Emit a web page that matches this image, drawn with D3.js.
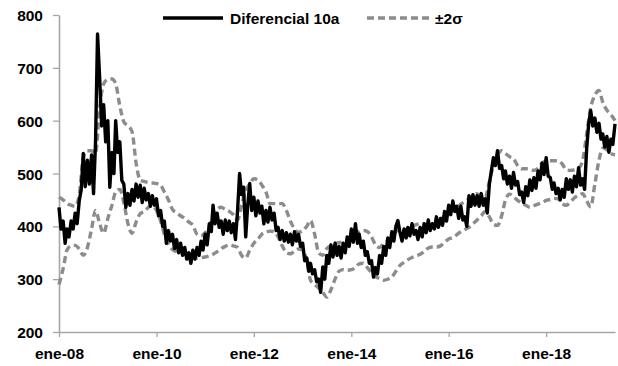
<!DOCTYPE html>
<html>
<head>
<meta charset="utf-8">
<script src="https://cdn.jsdelivr.net/npm/d3@7"></script>
<style>
  body { margin: 0; background: #fff; }
  svg text { font-family: "Liberation Sans", Arial, sans-serif; font-weight: bold; }
</style>
</head>
<body>
<svg id="chart" width="618" height="366"></svg>
<script>
// spread series, two readings per month from ene-08
const diferencial = [
  // 2008
  436, 395, 410, 368, 395, 380, 410, 395, 425, 405, 449, 470, 538, 475, 525, 480, 535, 462, 560, 764, 680, 590, 630, 560,
  // 2009
  600, 474, 540, 500, 600, 540, 560, 487, 480, 436, 462, 440, 470, 448, 480, 455, 478, 445, 472, 450, 462, 438, 458, 440,
  // 2010
  452, 420, 430, 400, 410, 368, 392, 372, 385, 358, 375, 350, 368, 345, 360, 338, 350, 330, 355, 338, 360, 345, 372, 355,
  // 2011
  385, 365, 405, 390, 440, 405, 425, 398, 410, 385, 412, 392, 410, 388, 405, 375, 430, 500, 460, 474, 380, 440, 481, 430,
  // 2012
  455, 420, 448, 425, 438, 405, 430, 408, 436, 412, 425, 392, 398, 375, 392, 372, 388, 370, 385, 365, 390, 372, 385, 362,
  // 2013
  368, 335, 340, 315, 330, 310, 318, 295, 300, 275, 323, 300, 345, 330, 365, 342, 368, 345, 362, 340, 368, 350, 380, 362,
  // 2014
  395, 370, 405, 368, 385, 360, 372, 345, 352, 330, 335, 304, 322, 310, 345, 330, 362, 345, 378, 360, 390, 372, 400, 411,
  // 2015
  388, 372, 395, 378, 398, 382, 405, 385, 392, 375, 398, 380, 405, 388, 412, 392, 405, 395, 418, 398, 415, 402, 428, 410,
  // 2016
  440, 422, 448, 428, 438, 415, 438, 412, 418, 400, 458, 438, 460, 440, 458, 438, 462, 440, 452, 425, 480, 505, 530, 515,
  // 2017
  543, 510, 515, 490, 505, 480, 495, 472, 502, 478, 485, 460, 465, 445, 475, 458, 488, 468, 492, 472, 505, 488, 520, 498,
  // 2018
  530, 495, 492, 470, 482, 462, 472, 450, 470, 455, 490, 470, 488, 465, 495, 475, 511, 478, 490, 470, 549, 595, 619, 590,
  // 2019
  605, 578, 595, 565, 575, 550, 570, 540, 565, 555, 594
];

// +2 sigma band, monthly from ene-08
const bandaSup = [
  455, 450, 443, 440, 438, 460, 530, 543, 543, 538, 625, 670,
  678, 679, 670, 628, 598, 590, 580, 520, 487, 485, 483, 482,
  481, 478, 465, 450, 432, 425, 420, 415, 408, 402, 385, 382,
  388, 400, 420, 432, 436, 432, 428, 422, 412, 440, 468, 480,
  490, 488, 478, 465, 443, 443, 443, 443, 430, 410, 395, 389,
  392, 400, 411, 385, 350, 345, 358, 363, 368, 369, 370, 372,
  375, 385, 390, 392, 390, 380, 365, 360, 368, 372, 378, 390,
  395, 393, 394, 400, 403, 405, 404, 402, 398, 402, 412, 420,
  426, 430, 435, 442, 447, 452, 458, 462, 455, 455, 485, 515,
  535, 543, 538, 532, 528, 515, 509, 509, 508, 506, 510, 520,
  524, 524, 524, 524, 518, 507, 506, 507, 510, 525, 575, 625,
  648, 657, 635, 620, 612, 600
];

// -2 sigma band, monthly from ene-08
const bandaInf = [
  290, 320, 355, 363, 364, 357, 345, 360, 395, 430, 405, 387,
  415, 440, 465, 470, 445, 405, 387, 408, 424, 428, 436, 440,
  430, 410, 385, 366, 356, 352, 350, 348, 345, 342, 340, 341,
  342, 344, 347, 352, 358, 362, 365, 363, 360, 345, 340, 355,
  368, 376, 385, 389, 391, 390, 380, 363, 350, 348, 353, 357,
  355, 335, 298, 290, 283, 275, 266, 280, 300, 315, 318, 317,
  318, 322, 329, 330, 322, 312, 305, 301, 298, 300, 304, 315,
  326, 332, 337, 341, 344, 347, 352, 359, 361, 361, 363, 370,
  376, 379, 384, 390, 394, 398, 405, 412, 420, 428, 418, 404,
  402, 420, 449, 461, 456, 449, 444, 440, 436, 439, 442, 445,
  449, 451, 453, 452, 443, 440, 446, 454, 459, 462, 448, 437,
  480, 525, 548, 545, 538, 535
];

const yTicks = [200, 300, 400, 500, 600, 700, 800];
const leyenda = ["Diferencial 10a", "\u00b12\u03c3"];

const svg = d3.select("#chart");
const m = { left: 59, right: 615, top: 15, bottom: 332 };

const x = d3.scaleTime()
  .domain([new Date(2008, 0, 1), new Date(2019, 5, 1)])
  .range([m.left, m.right]);
const y = d3.scaleLinear().domain([200, 800]).range([m.bottom, m.top]);

const serie = diferencial.map((v, i) => ({ d: new Date(2008, Math.floor(i / 2), i % 2 ? 16 : 1), v: v }));
const sup = bandaSup.map((v, i) => ({ d: new Date(2008, i, 1), v: v }));
const inf = bandaInf.map((v, i) => ({ d: new Date(2008, i, 1), v: v }));

// axes
const axisColor = "#a6a6a6";
const fmt = d => "ene-" + d3.timeFormat("%y")(d);

const gx = svg.append("g")
  .attr("transform", `translate(0,${m.bottom})`)
  .call(d3.axisBottom(x).ticks(d3.timeYear.every(2)).tickFormat(fmt).tickSizeInner(5).tickSizeOuter(0));
const gy = svg.append("g")
  .attr("transform", `translate(${m.left},0)`)
  .call(d3.axisLeft(y).tickValues(yTicks).tickSizeInner(6).tickSizeOuter(0));

[gx, gy].forEach(g => {
  g.select(".domain").attr("stroke", axisColor).attr("stroke-width", 1.6);
  g.selectAll(".tick line").attr("stroke", axisColor).attr("stroke-width", 1.3);
  g.selectAll(".tick text").attr("fill", "#000").style("font-size", "15.5px");
});
gx.selectAll(".tick text").attr("dy", "1.2em");
gy.selectAll(".tick text").attr("x", -16).attr("dy", "0.36em");

// lines
const line = d3.line().x(d => x(d.d)).y(d => y(d.v));
const dashColor = "#8c8c8c";

[sup, inf].forEach(b => {
  svg.append("path")
    .datum(b)
    .attr("d", d3.line().x(d => x(d.d)).y(d => y(d.v)).curve(d3.curveMonotoneX))
    .attr("fill", "none")
    .attr("stroke", dashColor)
    .attr("stroke-width", 3.4)
    .attr("stroke-dasharray", "7,4");
});

svg.append("path")
  .datum(serie)
  .attr("d", line)
  .attr("fill", "none")
  .attr("stroke", "#000")
  .attr("stroke-width", 3.4)
  .attr("stroke-linejoin", "round");

// legend
const lg = svg.append("g");
lg.append("line").attr("x1", 163).attr("x2", 223).attr("y1", 18).attr("y2", 18)
  .attr("stroke", "#000").attr("stroke-width", 3.5);
lg.append("text").attr("x", 230).attr("y", 24).style("font-size", "15.5px").text(leyenda[0]);
lg.append("line").attr("x1", 367).attr("x2", 429).attr("y1", 18).attr("y2", 18)
  .attr("stroke", dashColor).attr("stroke-width", 3.4).attr("stroke-dasharray", "7,4");
lg.append("text").attr("x", 435).attr("y", 24).style("font-size", "15.5px").text(leyenda[1]);
</script>
</body>
</html>
